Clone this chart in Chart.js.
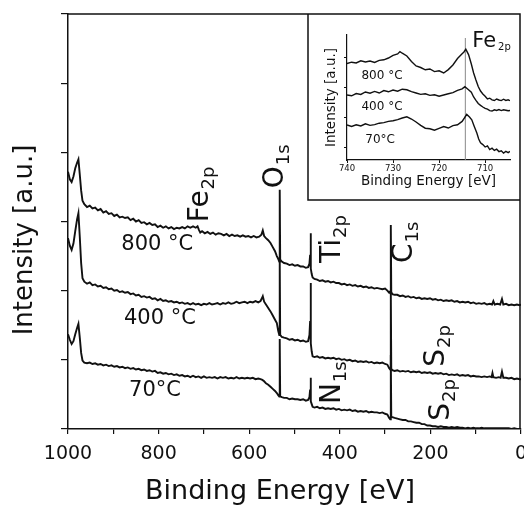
<!DOCTYPE html>
<html>
<head>
<meta charset="utf-8">
<script src="https://cdn.jsdelivr.net/npm/chart.js@4.4.1/dist/chart.umd.min.js"></script>
<style>
  html, body { margin: 0; padding: 0; background: #fff; overflow: hidden; }
  #wrap { position: relative; width: 524px; height: 508px; overflow: hidden; }
  #mainChart { position: absolute; left: 0; top: 0; }
  #insetChart { position: absolute; left: 309px; top: 15px; background: #fff; }
</style>
</head>
<body>
<div id="wrap">
  <canvas id="mainChart" width="540" height="508"></canvas>
  <canvas id="insetChart" width="210" height="184"></canvas>
</div>
<script>
// survey spectra: [binding energy (eV), intensity (a.u.)]
const spec800 = [
  [1000,37.2],[996,36.1],[992,35.7],[988,36.5],[984,37.7],[980,38.5],[977,39.0],[974,36.8],[971,34.5],[968,33.0],[964,32.5],
  [958,32.1],[952,32.3],[946,31.9],[940,32.0],[934,31.6],[928,31.8],[922,31.3],[916,31.5],[910,31.1],[904,31.2],[898,30.8],[892,31.0],[886,30.6],[880,30.7],[874,30.5],[868,30.6],[862,30.2],[856,30.4],[850,30.0],[844,30.2],[838,29.8],[832,29.9],[826,29.6],[820,29.8],[814,29.5],[808,29.6],[802,29.2],[796,29.4],[790,29.1],[784,29.3],[778,29.0],[772,29.2],[766,28.9],[760,29.1],[754,29.0],[748,29.2],[742,29.0],[736,29.3],[730,29.1],[724,29.3],[718,29.1],[714,29.3],[711,28.8],[708,28.4],[704,28.6],
  [698,28.3],[692,28.5],[686,28.2],[680,28.4],[674,28.1],[668,28.3],[662,28.2],[656,28.0],[650,28.2],[644,27.9],[638,28.1],[632,27.9],[626,28.0],[620,27.8],[614,28.0],[608,27.8],[602,27.9],[596,27.7],[590,27.9],[584,27.7],[578,27.8],[573,28.1],[570,28.7],[567,27.9],[563,27.6],[558,27.3],[553,26.9],[548,26.3],[543,25.7],[539,25.0],[536,24.6],[533.6,24.2],[532.6,34.6],[531.6,24.5],[528,24.2],[523,24.0],
  [517,23.9],[511,23.7],[505,23.8],[499,23.6],[493,23.7],[487,23.5],[481,23.5],[475,23.3],[470,23.4],[467,23.9],[465.5,25.2],[464.5,28.3],[463.6,23.2],[462,22.4],[460,21.9],[456,21.7],
  [450,21.6],[444,21.4],[438,21.5],[432,21.3],[426,21.4],[420,21.2],[414,21.3],[408,21.1],[402,21.1],[396,20.9],[390,21.0],[384,20.8],[378,20.9],[372,20.7],[366,20.8],[360,20.6],[354,20.7],[348,20.5],[342,20.6],[336,20.4],[330,20.5],[324,20.3],[318,20.4],[312,20.3],[306,20.2],[300,20.3],[295,20.0],[291,19.7],[288.6,19.9],[287.4,29.5],[286.4,19.8],[284,19.5],[279,19.4],
  [273,19.4],[267,19.2],[261,19.3],[255,19.1],[249,19.2],[243,19.0],[237,19.1],[231,18.9],[225,19.0],[219,18.8],[213,18.9],[207,18.8],[201,18.9],[195,18.7],[189,18.8],[183,18.6],[177,18.7],[171,18.5],[165,18.6],[159,18.5],[153,18.6],[147,18.4],[141,18.5],[135,18.3],[129,18.4],[123,18.3],[117,18.4],[111,18.2],[105,18.3],[99,18.1],[93,18.2],[87,18.1],[81,18.2],[75,18.0],[69,18.1],[64,18.0],[61,18.5],[58,18.0],[52,18.1],[46,18.0],[42,18.8],[39,18.0],[33,18.1],[27,17.9],[21,18.0],[15,17.9],[9,18.0],[3,17.9],[0,18.0]
];
const spec400 = [
  [1000,27.6],[996,26.5],[992,25.9],[988,26.8],[984,28.6],[980,30.3],[977,31.2],[974,27.8],[971,24.0],[968,21.8],[964,21.3],
  [958,21.0],[952,21.2],[946,20.8],[940,20.9],[934,20.6],[928,20.7],[922,20.4],[916,20.5],[910,20.2],[904,20.3],[898,20.0],[892,20.1],[886,19.8],[880,19.9],[874,19.7],[868,19.8],[862,19.5],[856,19.6],[850,19.3],[844,19.4],[838,19.1],[832,19.2],[826,19.0],[820,19.1],[814,18.8],[808,18.9],[802,18.6],[796,18.8],[790,18.5],[784,18.6],[778,18.4],[772,18.5],[766,18.3],[760,18.4],[754,18.2],[748,18.3],[742,18.1],[736,18.2],[730,18.0],[724,18.2],[718,18.0],[712,18.1],[706,17.9],
  [700,18.1],[694,18.0],[688,18.2],[682,18.0],[676,18.1],[670,18.2],[664,18.0],[658,18.2],[652,18.1],[646,18.3],[640,18.1],[634,18.2],[628,18.4],[622,18.2],[616,18.3],[610,18.4],[604,18.2],[598,18.4],[592,18.3],[586,18.5],[580,18.3],[575,18.5],[572,18.9],[570,19.2],[567,18.4],[563,18.0],[558,17.5],[553,17.0],[548,16.4],[543,15.8],[539,15.3],[536,14.2],[533.6,13.6],[532.6,24.4],[531.6,13.6],[528,13.3],[523,13.2],
  [517,13.1],[511,12.9],[505,13.0],[499,12.8],[493,12.9],[487,12.7],[481,12.8],[475,12.6],[470,12.7],[467,13.6],[465.5,15.6],[464.5,21.1],[463.6,12.4],[462,11.2],[460,10.5],[456,10.4],
  [450,10.5],[444,10.3],[438,10.4],[432,10.2],[426,10.3],[420,10.2],[414,10.3],[408,10.1],[402,10.2],[396,10.0],[390,10.1],[384,9.9],[378,10.0],[372,9.8],[366,9.9],[360,9.7],[354,9.8],[348,9.7],[342,9.8],[336,9.6],[330,9.7],[324,9.5],[318,9.6],[312,9.5],[306,9.6],[300,9.4],[295,9.3],[291,8.8],[288.6,8.6],[287.4,20.1],[286.4,8.7],[284,8.5],[279,8.4],
  [273,8.5],[267,8.3],[261,8.4],[255,8.3],[249,8.4],[243,8.2],[237,8.3],[231,8.2],[225,8.3],[219,8.1],[213,8.2],[207,8.1],[201,8.2],[195,8.0],[189,8.1],[183,8.0],[177,8.1],[171,7.9],[165,8.0],[159,7.8],[153,7.9],[147,7.8],[141,7.9],[135,7.7],[129,7.8],[123,7.7],[117,7.8],[111,7.6],[105,7.7],[99,7.6],[93,7.6],[87,7.5],[81,7.6],[75,7.5],[69,7.6],[65,7.5],[63,8.1],[61,7.5],[55,7.4],[49,7.5],[45,7.4],[42,8.3],[39,7.4],[33,7.4],[27,7.3],[21,7.4],[15,7.2],[9,7.3],[3,7.2],[0,7.2]
];
const spec70 = [
  [1000,13.7],[996,12.9],[992,12.3],[988,12.7],[984,13.7],[980,14.6],[977,15.2],[974,13.2],[971,11.0],[968,9.9],[964,9.6],
  [958,9.5],[952,9.6],[946,9.4],[940,9.5],[934,9.3],[928,9.4],[922,9.2],[916,9.3],[910,9.1],[904,9.2],[898,9.0],[892,9.1],[886,8.9],[880,9.0],[874,8.8],[868,8.9],[862,8.7],[856,8.8],[850,8.6],[844,8.7],[838,8.5],[832,8.6],[826,8.4],[820,8.5],[814,8.3],[808,8.4],[802,8.1],[796,8.2],[790,8.0],[784,8.1],[778,7.9],[772,8.0],[766,7.8],[760,7.9],[754,7.7],[748,7.8],[742,7.6],[736,7.7],[730,7.5],[724,7.7],[718,7.5],[712,7.6],[706,7.4],
  [700,7.6],[694,7.4],[688,7.5],[682,7.4],[676,7.5],[670,7.3],[664,7.5],[658,7.4],[652,7.5],[646,7.3],[640,7.4],[634,7.3],[628,7.5],[622,7.3],[616,7.4],[610,7.3],[604,7.4],[598,7.3],[592,7.4],[586,7.2],[580,7.3],[575,7.2],[571,7.1],[567,6.9],[563,6.6],[558,6.4],[553,6.1],[548,5.8],[543,5.5],[539,5.2],[536,4.9],[533.6,4.7],[532.6,13.0],[531.6,4.7],[528,4.6],[523,4.5],
  [517,4.5],[511,4.3],[505,4.4],[499,4.3],[493,4.3],[487,4.2],[481,4.3],[475,4.1],[470,4.2],[467,4.6],[465.5,5.7],[464.5,7.4],[463.6,4.0],[462,3.6],[460,3.2],[456,3.1],
  [450,3.2],[444,3.0],[438,3.1],[432,2.9],[426,3.0],[420,2.9],[414,3.0],[408,2.8],[402,2.9],[396,2.7],[390,2.8],[384,2.7],[378,2.8],[372,2.6],[366,2.7],[360,2.5],[354,2.6],[348,2.5],[342,2.6],[336,2.4],[330,2.5],[324,2.4],[318,2.4],[312,2.3],[306,2.4],[300,2.2],[295,2.1],[291,1.6],[288.6,1.4],[287.4,10.7],[286.4,1.8],[284,1.7],[279,1.6],
  [273,1.5],[267,1.4],[261,1.3],[255,1.3],[249,1.1],[243,1.1],[237,1.0],[231,0.9],[225,0.9],[219,0.7],[213,0.7],[207,0.5],[201,0.5],[195,0.4],[189,0.4],[183,0.3],[177,0.4],[171,0.3],[165,0.3],[159,0.2],[153,0.3],[147,0.2],[141,0.3],[135,0.2],[129,0.2],[123,0.1],[117,0.2],[111,0.1],[105,0.2],[99,0.1],[93,0.1],[87,0.2],[81,0.1],[75,0.1],[69,0.1],[63,0.1],[57,0.1],[51,0.1],[45,0.1],[39,0.1],[33,0.1],[27,0.1],[21,0.0],[15,0.1],[9,0.0],[3,0.0],[0,0.0]
];

// Fe 2p detail (inset)
const fe800 = [
  [740,96.5],[739,97.8],[738,97.0],[737,99.2],[736,98.0],[735,99.0],[734,97.6],[733,99.6],[732,100.2],[731,102.0],[730,104.6],[729,106.0],[728.5,108.4],[728,106.8],[727,104.0],[726,98.5],[725,94.0],[724,92.5],[723,90.2],[722,91.0],[721,88.4],[720,89.2],[719,87.0],[718,90.4],[717,95.0],[716,101.5],[715,106.2],[714.6,108.0],[714.2,110.8],[713.6,105.4],[713,96.0],[712.5,87.0],[712,80.0],[711.5,73.5],[711,69.0],[710.5,66.0],[710,63.8],[709.5,61.0],[709,61.8],[708.5,60.2],[708,59.5],[707.5,61.0],[707,60.0],[706.5,59.4],[706,60.8],[705.5,59.6],[705,60.2],[704.6,59.3]
];
const fe400 = [
  [740,65.0],[739,64.2],[738,66.4],[737,65.6],[736,68.0],[735,66.8],[734,68.6],[733,67.0],[732,69.4],[731,68.2],[730,70.0],[729,68.8],[728,70.8],[727,70.2],[726,68.4],[725,67.0],[724,65.6],[723,66.2],[722,64.6],[721,65.2],[720,63.8],[719,65.0],[718,66.2],[717,67.4],[716,69.6],[715,71.2],[714.4,73.4],[713.8,71.0],[713,67.8],[712.5,63.0],[712,59.6],[711.5,56.5],[711,54.6],[710.5,53.0],[710,51.6],[709.5,50.8],[709,49.4],[708.5,49.0],[708,50.2],[707.5,49.6],[707,50.4],[706.5,49.4],[706,50.2],[705.5,49.8],[705,49.2],[704.6,49.5]
];
const fe70 = [
  [740,35.0],[739,33.6],[738,35.2],[737,34.0],[736,36.2],[735,34.6],[734,35.4],[733,36.8],[732,37.4],[731,38.6],[730,39.2],[729,40.4],[728,42.0],[727,43.2],[726,41.0],[725,38.0],[724,34.6],[723,31.8],[722,31.2],[721,29.8],[720,31.6],[719,33.4],[718,32.0],[717,34.4],[716,35.2],[715,38.6],[714.5,42.0],[714,45.6],[713.4,43.0],[712.9,40.2],[712.4,34.0],[711.8,27.0],[711.4,21.0],[711,17.2],[710.5,15.4],[710,13.0],[709.5,14.2],[709,10.4],[708.5,11.8],[708,9.6],[707.5,10.8],[707,8.4],[706.5,9.2],[706,7.0],[705.5,8.6],[705,7.4],[704.6,8.6]
];
const fe2pMarker = [[714.3, 0], [714.3, 122]];
const insetIntensityTicks = [13, 43, 73, 103];

const ink = "#111";
const font = '"DejaVu Sans", "Liberation Sans", sans-serif';

// text drawn on the main plot (anchors in data units)
const tempLabels = [
  { text: "800 °C", e: 803, v: 26.7 },
  { text: "400 °C", e: 797, v: 15.9 },
  { text: "70°C", e: 808, v: 5.6 }
];
const peakLabels = [
  { el: "Fe", sub: "2p", e: 690.9, v: 29.9 },
  { el: "O", sub: "1s", e: 525.4, v: 34.8 },
  { el: "Ti", sub: "2p", e: 399.6, v: 24.0 },
  { el: "C", sub: "1s", e: 240.6, v: 24.0 },
  { el: "N", sub: "1s", e: 399.6, v: 3.6 },
  { el: "S", sub: "2p", e: 170.0, v: 9.0 },
  { el: "S", sub: "2p", e: 158.9, v: 1.2 }
];
const insetLabels = [
  { text: "800 °C", e: 732.4, v: 84 },
  { text: "400 °C", e: 732.4, v: 53 },
  { text: "70°C", e: 732.8, v: 20 }
];

function toXY(pairs) {
  return pairs.map(p => ({ x: p[0], y: p[1] }));
}

function lineSet(pairs, width, color) {
  return {
    data: toXY(pairs),
    borderColor: color || ink,
    borderWidth: width,
    pointRadius: 0,
    tension: 0,
    fill: false
  };
}

// frame, labels and axis titles for the survey plot
const surveyText = {
  id: "surveyText",
  afterDraw(chart) {
    const { ctx, chartArea: a, scales: { x, y } } = chart;
    ctx.save();
    ctx.strokeStyle = ink;
    ctx.lineWidth = 1.5;
    ctx.beginPath();
    ctx.moveTo(a.left, a.top);
    ctx.lineTo(a.right - 1, a.top);
    ctx.lineTo(a.right - 1, a.bottom);
    ctx.stroke();

    // inset box edges
    ctx.beginPath();
    ctx.moveTo(308, a.top);
    ctx.lineTo(308, 200);
    ctx.lineTo(a.right - 1, 200);
    ctx.stroke();

    ctx.fillStyle = ink;
    ctx.textAlign = "center";
    ctx.textBaseline = "middle";
    ctx.font = "21px " + font;
    tempLabels.forEach(l => {
      ctx.fillText(l.text, x.getPixelForValue(l.e), y.getPixelForValue(l.v));
    });

    ctx.textAlign = "left";
    ctx.textBaseline = "alphabetic";
    peakLabels.forEach(l => {
      ctx.save();
      ctx.translate(x.getPixelForValue(l.e), y.getPixelForValue(l.v));
      ctx.rotate(-Math.PI / 2);
      ctx.font = "28px " + font;
      ctx.fillText(l.el, 0, 0);
      const w = ctx.measureText(l.el).width;
      ctx.font = "18px " + font;
      ctx.fillText(l.sub, w + 1, 6);
      ctx.restore();
    });

    ctx.textAlign = "center";
    ctx.textBaseline = "middle";
    ctx.font = "27px " + font;
    ctx.fillText("Binding Energy [eV]", 280, 492);
    ctx.save();
    ctx.translate(25, 240);
    ctx.rotate(-Math.PI / 2);
    ctx.font = "26px " + font;
    ctx.fillText("Intensity [a.u.]", 0, 0);
    ctx.restore();
    ctx.restore();
  }
};

new Chart(document.getElementById("mainChart"), {
  type: "line",
  data: {
    datasets: [lineSet(spec800, 1.9), lineSet(spec400, 1.9), lineSet(spec70, 1.9)]
  },
  options: {
    responsive: false,
    animation: false,
    events: [],
    layout: { padding: { left: 0, right: 19, top: 14, bottom: 0 } },
    plugins: { legend: { display: false }, tooltip: { enabled: false } },
    scales: {
      x: {
        type: "linear",
        min: 0,
        max: 1000,
        reverse: true,
        afterFit: s => { s.height = 79; },
        ticks: {
          stepSize: 100,
          autoSkip: false,
          maxRotation: 0,
          padding: 9,
          color: ink,
          font: { family: font, size: 19 },
          callback: v => (v % 200 === 0 ? v : "")
        },
        grid: { display: true, drawOnChartArea: false, drawTicks: true, tickLength: 5, color: ink, lineWidth: 1.2 },
        border: { display: true, color: ink, width: 1.5 }
      },
      y: {
        min: 0,
        max: 60,
        afterFit: s => { s.width = 68; },
        ticks: { stepSize: 10, display: false },
        grid: { display: true, drawOnChartArea: false, drawTicks: true, tickLength: 7, color: ink, lineWidth: 1.2 },
        border: { display: true, color: ink, width: 1.5 }
      }
    }
  },
  plugins: [surveyText]
});

const insetText = {
  id: "insetText",
  afterDraw(chart) {
    const { ctx, scales: { x, y } } = chart;
    ctx.save();
    ctx.fillStyle = ink;
    ctx.textAlign = "center";
    ctx.textBaseline = "middle";
    ctx.font = "12px " + font;
    insetLabels.forEach(l => {
      ctx.fillText(l.text, x.getPixelForValue(l.e), y.getPixelForValue(l.v));
    });
    ctx.textAlign = "left";
    ctx.textBaseline = "alphabetic";
    const fx = x.getPixelForValue(712.8);
    const fy = y.getPixelForValue(113);
    ctx.font = "21px " + font;
    ctx.fillText("Fe", fx, fy);
    const w = ctx.measureText("Fe").width;
    ctx.font = "10px " + font;
    ctx.fillText("2p", fx + w + 2, fy + 3);
    ctx.restore();
  }
};

new Chart(document.getElementById("insetChart"), {
  type: "line",
  data: {
    datasets: [
      lineSet(fe800, 1.4),
      lineSet(fe400, 1.4),
      lineSet(fe70, 1.4),
      lineSet(fe2pMarker, 1, "#888")
    ]
  },
  options: {
    responsive: false,
    animation: false,
    events: [],
    layout: { padding: { left: 0, right: 9, top: 20, bottom: 0 } },
    plugins: { legend: { display: false }, tooltip: { enabled: false } },
    scales: {
      x: {
        type: "linear",
        min: 704.6,
        max: 740,
        reverse: true,
        afterFit: s => { s.height = 39; },
        ticks: {
          stepSize: 10,
          includeBounds: false,
          autoSkip: false,
          maxRotation: 0,
          padding: 1,
          color: ink,
          font: { family: font, size: 8.5 }
        },
        title: {
          display: true,
          text: "Binding Energy [eV]",
          color: ink,
          font: { family: font, size: 13.5 },
          padding: { top: 0, bottom: 9 }
        },
        grid: { display: true, drawOnChartArea: false, drawTicks: true, tickLength: 3, color: ink, lineWidth: 1 },
        border: { display: true, color: ink, width: 1.2 }
      },
      y: {
        min: 0,
        max: 125,
        afterFit: s => { s.width = 38; },
        afterBuildTicks: s => { s.ticks = insetIntensityTicks.map(v => ({ value: v })); },
        ticks: { display: false },
        title: {
          display: true,
          text: "Intensity [a.u.]",
          color: ink,
          font: { family: font, size: 13.5 },
          padding: { top: 14, bottom: 0 }
        },
        grid: { display: true, drawOnChartArea: false, drawTicks: true, tickLength: 3, color: ink, lineWidth: 1 },
        border: { display: true, color: ink, width: 1.2 }
      }
    }
  },
  plugins: [insetText]
});
</script>
</body>
</html>
